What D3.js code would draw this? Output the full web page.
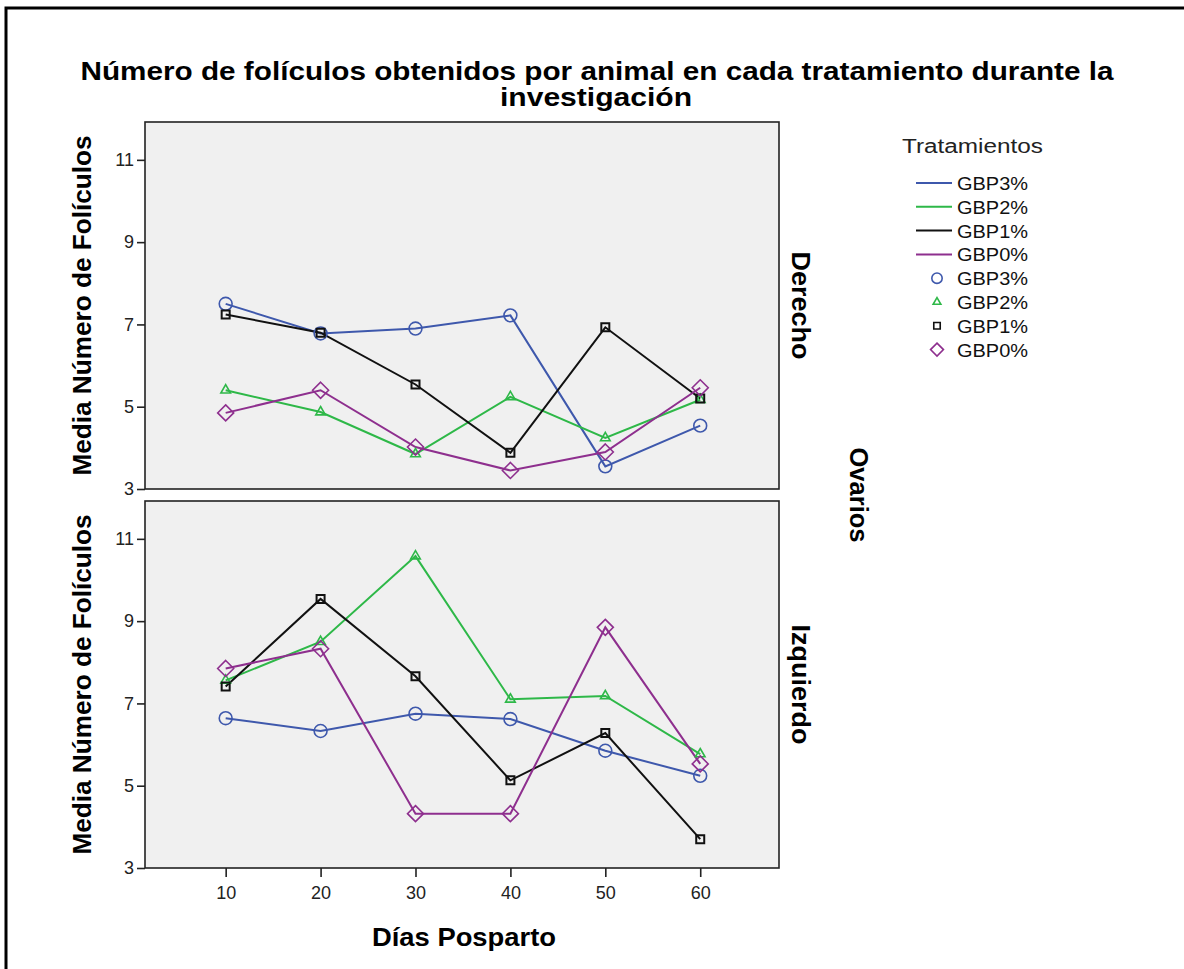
<!DOCTYPE html>
<html><head><meta charset="utf-8">
<script src="https://cdn.jsdelivr.net/npm/d3@7"></script>
<style>body{margin:0;background:#fff}svg{display:block}</style>
</head><body>
<script>
const days = [10, 20, 30, 40, 50, 60];
const treatments = ["GBP3%", "GBP2%", "GBP1%", "GBP0%"];
const panels = ["Derecho", "Izquierdo"];
// Derecho (right ovary)
const derGBP3 = [7.5, 6.78, 6.9, 7.22, 3.55, 4.54];
const derGBP2 = [5.4, 4.87, 3.85, 5.24, 4.24, 5.17];
const derGBP1 = [7.24, 6.8, 5.54, 3.88, 6.93, 5.2];
const derGBP0 = [4.85, 5.4, 4.02, 3.45, 3.9, 5.46];
// Izquierdo (left ovary)
const izqGBP3 = [6.64, 6.33, 6.75, 6.62, 5.85, 5.24];
const izqGBP2 = [7.56, 8.5, 10.58, 7.1, 7.18, 5.77];
const izqGBP1 = [7.41, 9.54, 7.66, 5.13, 6.28, 3.7];
const izqGBP0 = [7.85, 8.33, 4.32, 4.32, 8.85, 5.53];
const yTicks = [3, 5, 7, 9, 11];
const xTicks = [10, 20, 30, 40, 50, 60];

const data = {
  Derecho: [derGBP3, derGBP2, derGBP1, derGBP0],
  Izquierdo: [izqGBP3, izqGBP2, izqGBP1, izqGBP0]
};
const colors = ["#3e58ac", "#2eb848", "#111111", "#8e2f8e"];
const shapes = ["circle", "triangle", "square", "diamond"];
const FONT = "'Liberation Sans', Arial, sans-serif";

const W = 1184, H = 969;
const svg = d3.select("body").append("svg").attr("width", W).attr("height", H)
  .style("font-family", FONT);

function txt(parent, s, size, len, bold) {
  const t = parent.append("text").attr("font-size", size).attr("fill", "#000").text(s);
  if (bold) t.attr("font-weight", "bold");
  if (len) t.attr("textLength", len).attr("lengthAdjust", "spacingAndGlyphs");
  return t;
}

// outer frame (only top/left visible)
svg.append("rect").attr("x", 6).attr("y", 8).attr("width", W + 20).attr("height", H + 20)
  .attr("fill", "none").attr("stroke", "#000").attr("stroke-width", 3);

// title
txt(svg, "Número de folículos obtenidos por animal en cada tratamiento durante la", 25, 1033, true)
  .attr("x", 597).attr("y", 80).attr("text-anchor", "middle");
txt(svg, "investigación", 25, 192, true)
  .attr("x", 596).attr("y", 106).attr("text-anchor", "middle");

const left = 145, right = 779;
const panelBox = [{top: 122, bottom: 489}, {top: 501, bottom: 868}];
const x = d3.scaleLinear().domain([1.5, 68.3]).range([left, right]);

function symbolPath(shape, k) {
  if (shape === "circle") return d3.symbol(d3.symbolCircle, 130 * k)();
  if (shape === "triangle") return d3.symbol(d3.symbolTriangle, 40 * k)();
  if (shape === "square") return d3.symbol(d3.symbolSquare, 64 * k)();
  const r = 8 * Math.sqrt(k);
  return `M0,${-r}L${r},0L0,${r}L${-r},0Z`;
}

panels.forEach((p, pi) => {
  const box = panelBox[pi];
  const y = d3.scaleLinear().domain([3, 11.92]).range([box.bottom, box.top]);
  const g = svg.append("g");
  g.append("rect").attr("x", left).attr("y", box.top).attr("width", right - left)
    .attr("height", box.bottom - box.top).attr("fill", "#f0f0f0")
    .attr("stroke", "#222").attr("stroke-width", 1.6);

  const ya = g.append("g").attr("transform", `translate(${left},0)`)
    .call(d3.axisLeft(y).tickValues(yTicks).tickSize(8).tickPadding(3).tickFormat(d3.format("d")));
  ya.select(".domain").remove();
  ya.selectAll("line").attr("stroke", "#222").attr("stroke-width", 1.6);
  ya.selectAll("text").attr("font-size", 18).attr("fill", "#222").attr("font-family", FONT);

  if (pi === 1) {
    const xa = g.append("g").attr("transform", `translate(0,${box.bottom})`)
      .call(d3.axisBottom(x).tickValues(xTicks).tickSize(9).tickPadding(9).tickFormat(d3.format("d")));
    xa.select(".domain").remove();
    xa.selectAll("line").attr("stroke", "#222").attr("stroke-width", 1.6);
    xa.selectAll("text").attr("font-size", 18).attr("fill", "#222").attr("font-family", FONT);
  }

  const line = d3.line().x((d, i) => x(days[i])).y(d => y(d));
  data[p].forEach((vals, si) => {
    g.append("path").attr("d", line(vals)).attr("fill", "none")
      .attr("stroke", colors[si]).attr("stroke-width", 2);
  });
  data[p].forEach((vals, si) => {
    g.selectAll(null).data(vals).enter().append("path")
      .attr("transform", (d, i) => `translate(${x(days[i])},${y(d)})`)
      .attr("d", symbolPath(shapes[si], 1)).attr("fill", "none")
      .attr("stroke", colors[si]).attr("stroke-width", si === 2 ? 2 : 1.6);
  });

  const cy = (box.top + box.bottom) / 2;
  txt(svg, "Media Número de Folículos", 25, 340, true)
    .attr("transform", `translate(91,${cy}) rotate(-90)`).attr("text-anchor", "middle");
  txt(svg, p, 25, pi === 0 ? 108 : 120, true)
    .attr("transform", `translate(792,${cy}) rotate(90)`).attr("text-anchor", "middle");
});

txt(svg, "Ovarios", 25, 95, true)
  .attr("transform", `translate(850,${(122 + 868) / 2}) rotate(90)`).attr("text-anchor", "middle");

txt(svg, "Días Posparto", 25, 184, true)
  .attr("x", 464).attr("y", 946).attr("text-anchor", "middle");

// legend
const lg = svg.append("g");
txt(lg, "Tratamientos", 20, 141, false).attr("x", 902).attr("y", 153).attr("fill", "#222");
treatments.forEach((t, i) => {
  const yy = 183 + i * 23.8;
  lg.append("line").attr("x1", 916).attr("x2", 952).attr("y1", yy).attr("y2", yy)
    .attr("stroke", colors[i]).attr("stroke-width", 2);
  txt(lg, t, 19, 71, false).attr("x", 957).attr("y", yy + 7).attr("fill", "#111");
});
treatments.forEach((t, i) => {
  const yy = 183 + (i + 4) * 23.8;
  lg.append("path").attr("transform", `translate(937,${yy})`)
    .attr("d", symbolPath(shapes[i], 0.65))
    .attr("fill", "none").attr("stroke", colors[i]).attr("stroke-width", 1.6);
  txt(lg, t, 19, 71, false).attr("x", 957).attr("y", yy + 7).attr("fill", "#111");
});
</script>
</body></html>
